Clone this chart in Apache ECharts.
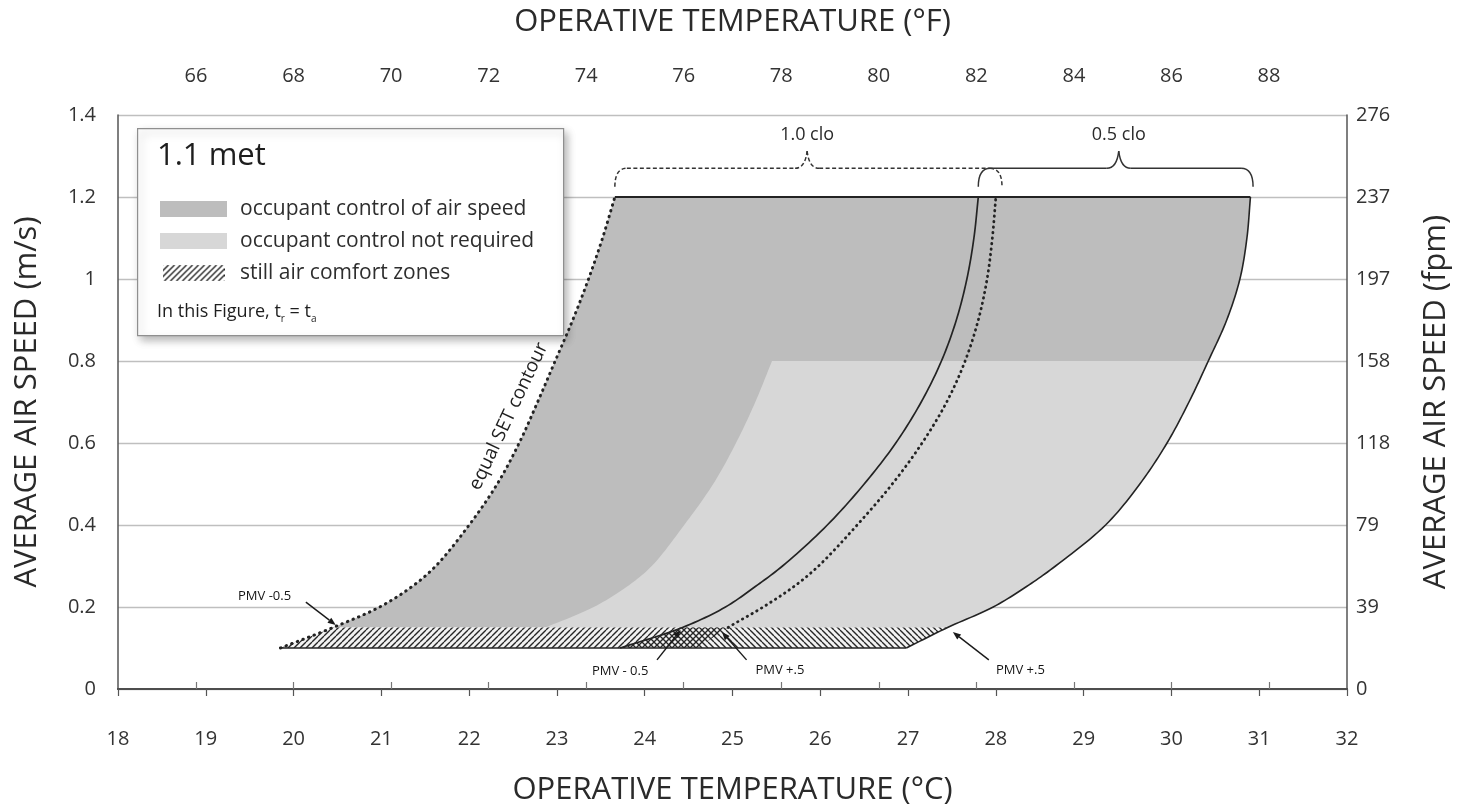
<!DOCTYPE html>
<html>
<head>
<meta charset="utf-8">
<title>Acceptable operative temperature and air speed, 1.1 met</title>
<script src="https://cdn.jsdelivr.net/npm/echarts@6/dist/echarts.min.js"></script>
<style>
  html, body { margin: 0; padding: 0; background: #ffffff; }
  #chart { width: 1460px; height: 811px; }
</style>
</head>
<body>
<div id="chart"></div>
<script>
// ---- Boundary curves, sampled at these average air speeds (m/s) ----
const speedLevels = [0.10, 0.15, 0.20, 0.25, 0.30, 0.40, 0.50, 0.60, 0.70, 0.80, 0.90, 1.00, 1.10, 1.20];
// 1.0 clo, PMV -0.5 (equal SET contour), operative temperature in °C
const clo10Lower = [19.85, 20.45, 20.98, 21.35, 21.62, 22.00, 22.32, 22.57, 22.78, 22.98, 23.18, 23.36, 23.52, 23.66];
// 1.0 clo, PMV +0.5
const clo10Upper = [24.60, 24.95, 25.35, 25.70, 25.98, 26.42, 26.82, 27.16, 27.44, 27.65, 27.80, 27.90, 27.96, 28.00];
// 0.5 clo, PMV -0.5
const clo05Lower = [23.72, 24.43, 24.92, 25.26, 25.57, 26.08, 26.50, 26.86, 27.15, 27.38, 27.55, 27.67, 27.75, 27.80];
// 0.5 clo, PMV +0.5
const clo05Upper = [26.98, 27.45, 27.97, 28.35, 28.68, 29.25, 29.64, 29.95, 30.20, 30.42, 30.63, 30.78, 30.86, 30.90];

// Left edge of the zone where occupant control is not required (up to 0.8 m/s)
const noControlSpeed = [0.15, 0.20, 0.25, 0.30, 0.40, 0.50, 0.60, 0.70, 0.80];
const noControlLeft  = [22.87, 23.42, 23.80, 24.08, 24.45, 24.78, 25.04, 25.26, 25.45];

// ---- Axis tick labels ----
const fahrenheitTicks = [66, 68, 70, 72, 74, 76, 78, 80, 82, 84, 86, 88];
const fpmTicks = ['0', '39', '79', '118', '158', '197', '237', '276'];

// ---- Annotations ----
const braceLabels = ['1.0 clo', '0.5 clo'];
const braceFrom   = [23.66, 27.80];
const braceTo     = [28.07, 30.93];
const braceTip    = [25.85, 29.40];
const braceDashed = [true, false];

const pmvNotes     = ['PMV -0.5', 'PMV - 0.5', 'PMV +.5', 'PMV +.5'];
const pmvTextAt    = [[19.67, 0.227], [23.72, 0.044], [25.54, 0.046], [28.28, 0.046]];
const pmvArrowFrom = [[20.14, 0.212], [24.14, 0.071], [25.16, 0.071], [27.92, 0.071]];
const pmvArrowTo   = [[20.48, 0.156], [24.41, 0.144], [24.88, 0.139], [27.51, 0.139]];

const setLabel = 'equal SET contour';
const setLabelAt = [22.45, 0.665];

// ---- Styling ----
const FONT = "'Open Sans', 'Noto Sans', sans-serif";
const DARK = '#bdbdbd';
const LIGHT = '#d7d7d7';
const INK = '#232323';
const SEG = 12;            // spline subdivisions between two samples
const last = speedLevels.length - 1;

// centripetal Catmull-Rom through pixel points (smooth drawing of a boundary)
function spline(pts) {
  const n = pts.length;
  if (n < 3) return pts.slice();
  const P = [[2 * pts[0][0] - pts[1][0], 2 * pts[0][1] - pts[1][1]]]
    .concat(pts, [[2 * pts[n - 1][0] - pts[n - 2][0], 2 * pts[n - 1][1] - pts[n - 2][1]]]);
  const knot = (ti, a, b) => ti + Math.max(Math.pow(Math.hypot(b[0] - a[0], b[1] - a[1]), 0.5), 1e-6);
  const lerp = (a, b, ta, tb, t) => {
    const u = (t - ta) / (tb - ta);
    return [a[0] + (b[0] - a[0]) * u, a[1] + (b[1] - a[1]) * u];
  };
  const out = [];
  for (let i = 1; i < P.length - 2; i++) {
    const p0 = P[i - 1], p1 = P[i], p2 = P[i + 1], p3 = P[i + 2];
    const t0 = 0, t1 = knot(t0, p0, p1), t2 = knot(t1, p1, p2), t3 = knot(t2, p2, p3);
    for (let s = 0; s < SEG; s++) {
      const t = t1 + (t2 - t1) * s / SEG;
      const A1 = lerp(p0, p1, t0, t1, t), A2 = lerp(p1, p2, t1, t2, t), A3 = lerp(p2, p3, t2, t3, t);
      const B1 = lerp(A1, A2, t0, t2, t), B2 = lerp(A2, A3, t1, t3, t);
      out.push(lerp(B1, B2, t1, t2, t));
    }
  }
  out.push(pts[n - 1]);
  return out;
}
const curvePx = (api, temps, speeds) => spline(temps.map((t, i) => api.coord([t, speeds[i]])));

// diagonal hatch tile; dir > 0 draws "/", dir < 0 draws "\"
function hatchCanvas(dir, w, h, bg, step) {
  const c = document.createElement('canvas');
  c.width = w; c.height = h;
  const g = c.getContext('2d');
  if (bg) { g.fillStyle = bg; g.fillRect(0, 0, w, h); }
  g.strokeStyle = '#262626';
  g.lineWidth = 1.35;
  for (let k = -h - step; k < w + h + step; k += step) {
    g.beginPath();
    if (dir > 0) { g.moveTo(k, h); g.lineTo(k + h, 0); }
    else { g.moveTo(k, 0); g.lineTo(k + h, h); }
    g.stroke();
  }
  return c;
}
const hatchFwd = hatchCanvas(1, 6, 6, null, 6);
const hatchBack = hatchCanvas(-1, 6, 6, null, 6);
const hatchIcon = hatchCanvas(1, 62, 16, '#ffffff', 6).toDataURL();

// shaded zones, built from the boundary curves
const zoneBuilders = {
  dark: api => curvePx(api, clo10Lower, speedLevels).slice(SEG)
    .concat(curvePx(api, clo05Upper, speedLevels).slice(SEG).reverse()),
  light: api => curvePx(api, noControlLeft, noControlSpeed)
    .concat(curvePx(api, clo05Upper, speedLevels).slice(SEG, 9 * SEG + 1).reverse())
};

function zoneSeries(name, key, color, z) {
  return {
    type: 'custom', name: name, coordinateSystem: 'cartesian2d', silent: true, z: z,
    itemStyle: { color: color },
    data: [[clo10Lower[1], speedLevels[1]]],
    renderItem: (params, api) => ({
      type: 'polygon',
      shape: { points: zoneBuilders[key](api) },
      style: { fill: color, stroke: null }
    })
  };
}

// boundary lines: temperatures, first sample drawn, line style
const boundaryLines = [
  { temps: clo10Lower, from: 0, style: { stroke: INK, lineWidth: 3, lineDash: [0.5, 5.5], lineCap: 'round' } },
  { temps: clo10Upper, from: 1, style: { stroke: INK, lineWidth: 2.8, lineDash: [0.5, 5], lineCap: 'round' } },
  { temps: clo05Lower, from: 0, style: { stroke: INK, lineWidth: 1.7 } },
  { temps: clo05Upper, from: 0, style: { stroke: INK, lineWidth: 1.6 } }
];

function straightLine(data, width) {
  return {
    type: 'line', data: data, showSymbol: false, silent: true, z: 5,
    lineStyle: { color: INK, width: width }
  };
}

const chart = echarts.init(document.getElementById('chart'));

const option = {
  backgroundColor: '#ffffff',
  animation: false,
  grid: { left: 118, right: 107, top: 115, bottom: 122 },
  legend: {
    left: 160, top: 198, orient: 'vertical', z: 10, padding: 0,
    itemWidth: 67, itemHeight: 16, itemGap: 10, selectedMode: false,
    textStyle: { fontSize: 21, color: '#2e2e2e', fontFamily: FONT, lineHeight: 22, padding: [0, 0, 0, 8] },
    data: [
      { name: 'occupant control of air speed', icon: 'rect' },
      { name: 'occupant control not required', icon: 'rect' },
      { name: 'still air comfort zones', icon: 'image://' + hatchIcon }
    ]
  },
  graphic: [
    {
      type: 'rect', left: 137, top: 128, z: 3,
      shape: { width: 426, height: 207 },
      style: { fill: '#ffffff', stroke: '#8f8f8f', lineWidth: 1.2,
               shadowBlur: 8, shadowOffsetX: 3, shadowOffsetY: 4, shadowColor: 'rgba(0,0,0,0.28)' }
    },
    {
      type: 'text', left: 157, top: 141, z: 10,
      style: { text: '1.1 met', fontSize: 31, fill: '#1e1e1e', fontFamily: FONT }
    },
    {
      type: 'text', left: 157, top: 300, z: 10,
      style: {
        text: 'In this Figure, t{s|r} = t{s|a}', fontSize: 18, fill: '#1e1e1e', fontFamily: FONT, lineHeight: 24,
        rich: { s: { fontSize: 10, lineHeight: 24, verticalAlign: 'bottom', fontFamily: FONT, fill: '#1e1e1e' } }
      }
    }
  ],
  xAxis: [
    {
      type: 'value', position: 'bottom', min: 18, max: 32, interval: 1,
      name: 'OPERATIVE TEMPERATURE (°C)', nameLocation: 'middle', nameGap: 86,
      nameTextStyle: { fontSize: 31, color: '#2a2a2a', fontFamily: FONT },
      axisLine: { show: true, lineStyle: { color: '#3a3a3a', width: 2 } },
      axisTick: { show: true, length: 7, lineStyle: { color: '#555', width: 1.2 } },
      axisLabel: { margin: 40, fontSize: 20, color: '#333', fontFamily: FONT },
      splitLine: { show: false }
    },
    {
      type: 'value', position: 'top', min: 64.4, max: 89.6,
      name: 'OPERATIVE TEMPERATURE (°F)', nameLocation: 'middle', nameGap: 77,
      nameTextStyle: { fontSize: 31, color: '#2a2a2a', fontFamily: FONT },
      axisLine: { show: true, lineStyle: { color: '#555', width: 1.5 } },
      axisTick: { show: true, length: 7, customValues: fahrenheitTicks, lineStyle: { color: '#777', width: 1.2 } },
      axisLabel: { margin: 29, fontSize: 20, color: '#333', fontFamily: FONT, customValues: fahrenheitTicks },
      splitLine: { show: false }
    }
  ],
  yAxis: [
    {
      type: 'value', position: 'left', min: 0, max: 1.4, interval: 0.2,
      name: 'AVERAGE AIR SPEED (m/s)', nameLocation: 'middle', nameGap: 75,
      nameTextStyle: { fontSize: 31, color: '#2a2a2a', fontFamily: FONT },
      axisLine: { show: true, lineStyle: { color: '#555', width: 1.5 } },
      axisTick: { show: false },
      axisLabel: { margin: 22, fontSize: 20, color: '#333', fontFamily: FONT },
      splitLine: { show: true, lineStyle: { color: '#bfbfbf', width: 1.4 } }
    },
    {
      type: 'value', position: 'right', min: 0, max: 1.4, interval: 0.2,
      name: 'AVERAGE AIR SPEED (fpm)', nameLocation: 'middle', nameGap: 74,
      nameTextStyle: { fontSize: 31, color: '#2a2a2a', fontFamily: FONT },
      axisLine: { show: true, lineStyle: { color: '#555', width: 1.5 } },
      axisTick: { show: false },
      axisLabel: {
        margin: 9, fontSize: 20, color: '#333', fontFamily: FONT,
        formatter: v => fpmTicks[Math.round(v / 0.2)]
      },
      splitLine: { show: false }
    }
  ],
  series: [
    zoneSeries('occupant control of air speed', 'dark', DARK, 1),
    zoneSeries('occupant control not required', 'light', LIGHT, 2),
    {
      type: 'custom', name: 'still air comfort zones', coordinateSystem: 'cartesian2d', silent: true, z: 3,
      itemStyle: { color: '#ffffff' },
      data: [[clo10Lower[0], speedLevels[0]]],
      renderItem: (params, api) => {
        // the still-air zones span the first sample interval (0.10–0.15 m/s)
        const p10 = curvePx(api, clo10Lower, speedLevels).slice(0, SEG + 1)
          .concat(curvePx(api, clo10Upper, speedLevels).slice(0, SEG + 1).reverse());
        const p05 = curvePx(api, clo05Lower, speedLevels).slice(0, SEG + 1)
          .concat(curvePx(api, clo05Upper, speedLevels).slice(0, SEG + 1).reverse());
        return {
          type: 'group',
          children: [
            { type: 'polygon', shape: { points: p10 }, style: { fill: '#f2f2f2' } },
            { type: 'polygon', shape: { points: p05 }, style: { fill: '#f2f2f2' } },
            { type: 'polygon', shape: { points: p10 }, style: { fill: { image: hatchFwd, repeat: 'repeat' } } },
            { type: 'polygon', shape: { points: p05 }, style: { fill: { image: hatchBack, repeat: 'repeat' } } }
          ]
        };
      }
    },
    // comfort-zone boundary curves
    {
      type: 'custom', coordinateSystem: 'cartesian2d', silent: true, z: 5,
      data: boundaryLines.map(b => [b.temps[last], speedLevels[last]]),
      renderItem: (params, api) => {
        const b = boundaryLines[params.dataIndex];
        return {
          type: 'polyline',
          shape: { points: curvePx(api, b.temps, speedLevels).slice(b.from * SEG) },
          style: Object.assign({ fill: null }, b.style)
        };
      }
    },
    // upper limit at 1.2 m/s
    straightLine([[clo10Lower[last], speedLevels[last]], [clo05Upper[last], speedLevels[last]]], 2.2),
    // lower limit at 0.1 m/s
    straightLine([[clo10Lower[0], speedLevels[0]], [clo05Upper[0], speedLevels[0]]], 1.6),
    // clothing braces with labels
    {
      type: 'custom', coordinateSystem: 'cartesian2d', silent: true, z: 6,
      data: braceLabels.map((l, i) => [braceTip[i], 1.3]),
      renderItem: (params, api) => {
        const i = params.dataIndex;
        const foot = 1.225, bar = 1.27, tipY = 1.312, labelY = 1.352;
        const a = api.coord([braceFrom[i], foot]);
        const b = api.coord([braceTo[i], foot]);
        const yb = api.coord([braceFrom[i], bar])[1];
        const t = api.coord([braceTip[i], tipY]);
        const lab = api.coord([braceTip[i], labelY]);
        const r = 12;
        const st = { stroke: '#333', lineWidth: 1.5, fill: null, lineDash: braceDashed[i] ? [4, 2.5] : null };
        return {
          type: 'group',
          children: [
            { type: 'bezierCurve', shape: { x1: a[0], y1: a[1], cpx1: a[0], cpy1: yb, x2: a[0] + r, y2: yb }, style: st },
            { type: 'line', shape: { x1: a[0] + r, y1: yb, x2: t[0] - r, y2: yb }, style: st },
            { type: 'bezierCurve', shape: { x1: t[0] - r, y1: yb, cpx1: t[0] - 2, cpy1: yb, x2: t[0], y2: t[1] }, style: st },
            { type: 'bezierCurve', shape: { x1: t[0], y1: t[1], cpx1: t[0] + 2, cpy1: yb, x2: t[0] + r, y2: yb }, style: st },
            { type: 'line', shape: { x1: t[0] + r, y1: yb, x2: b[0] - r, y2: yb }, style: st },
            { type: 'bezierCurve', shape: { x1: b[0] - r, y1: yb, cpx1: b[0], cpy1: yb, x2: b[0], y2: b[1] }, style: st },
            { type: 'text', x: lab[0], y: lab[1],
              style: { text: braceLabels[i], fill: '#2a2a2a', fontSize: 18, fontFamily: FONT, align: 'center', verticalAlign: 'middle' } }
          ]
        };
      }
    },
    // PMV notes with arrows
    {
      type: 'custom', coordinateSystem: 'cartesian2d', silent: true, z: 6,
      data: pmvNotes.map((n, i) => pmvTextAt[i]),
      renderItem: (params, api) => {
        const i = params.dataIndex;
        const t = api.coord(pmvTextAt[i]);
        const a = api.coord(pmvArrowFrom[i]);
        const b = api.coord(pmvArrowTo[i]);
        const ang = Math.atan2(b[1] - a[1], b[0] - a[0]);
        const L = 8, W = 3.2;
        const cx = Math.cos(ang), sy = Math.sin(ang);
        const base = [b[0] - L * cx, b[1] - L * sy];
        const head = [b, [base[0] + W * sy, base[1] - W * cx], [base[0] - W * sy, base[1] + W * cx]];
        return {
          type: 'group',
          children: [
            { type: 'line', shape: { x1: a[0], y1: a[1], x2: base[0], y2: base[1] }, style: { stroke: '#1a1a1a', lineWidth: 1.4 } },
            { type: 'polygon', shape: { points: head }, style: { fill: '#1a1a1a' } },
            { type: 'text', x: t[0], y: t[1],
              style: { text: pmvNotes[i], fill: '#151515', fontSize: 13, fontFamily: FONT, align: 'center', verticalAlign: 'middle' } }
          ]
        };
      }
    },
    // label along the equal SET contour
    {
      type: 'custom', coordinateSystem: 'cartesian2d', silent: true, z: 6,
      data: [setLabelAt],
      renderItem: (params, api) => {
        const p = api.coord(setLabelAt);
        const q1 = api.coord([clo10Lower[6], speedLevels[6]]);
        const q2 = api.coord([clo10Lower[9], speedLevels[9]]);
        const ang = Math.atan2(q1[1] - q2[1], q2[0] - q1[0]);
        return {
          type: 'text', x: p[0], y: p[1], rotation: ang,
          style: { text: setLabel, fill: '#1e1e1e', fontSize: 19, fontFamily: FONT, align: 'center', verticalAlign: 'middle' }
        };
      }
    }
  ]
};

chart.setOption(option);
</script>
</body>
</html>
